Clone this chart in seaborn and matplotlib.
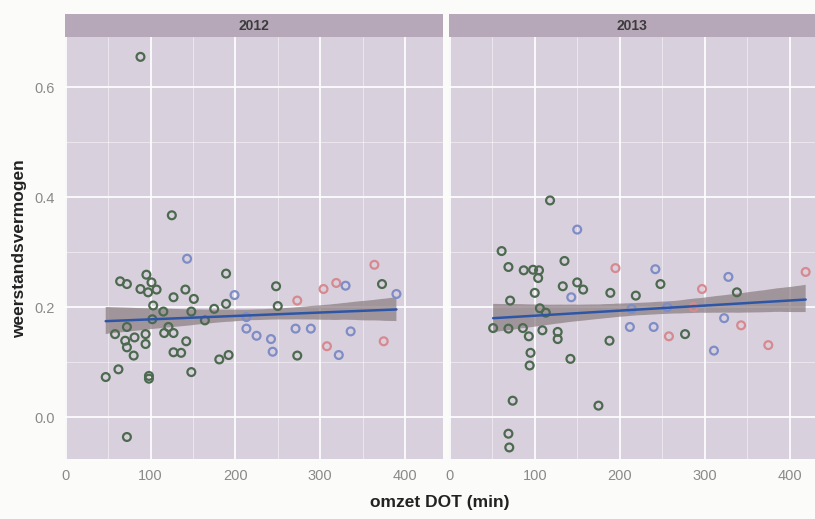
import numpy as np
import pandas as pd
import seaborn as sns
import matplotlib.pyplot as plt
from matplotlib.ticker import MultipleLocator

# 2012 panel
x_2012 = [88, 125, 143, 189, 364, 64, 72, 95, 101, 88, 97, 107, 103, 127, 141, 151,
          248, 199, 304, 319, 330, 373, 390, 273, 250, 189, 175, 148, 115, 102, 164,
          213, 72, 58, 81, 94, 70, 72, 80, 94, 121, 127, 116, 142, 127, 136, 181, 192,
          273, 213, 225, 242, 244, 271, 289, 336, 308, 322, 375, 47, 62, 98, 98, 148, 72]
y_2012 = [0.655, 0.367, 0.288, 0.261, 0.277, 0.247, 0.242, 0.259, 0.245, 0.233, 0.227,
          0.232, 0.203, 0.218, 0.232, 0.215, 0.238, 0.222, 0.233, 0.244, 0.239, 0.242,
          0.224, 0.212, 0.202, 0.206, 0.197, 0.192, 0.192, 0.178, 0.176, 0.182, 0.164,
          0.151, 0.145, 0.151, 0.139, 0.127, 0.112, 0.133, 0.164, 0.153, 0.153, 0.138,
          0.118, 0.117, 0.105, 0.113, 0.112, 0.161, 0.148, 0.142, 0.119, 0.161, 0.161,
          0.156, 0.129, 0.113, 0.138, 0.073, 0.087, 0.070, 0.075, 0.082, -0.036]
g_2012 = list("GGBGRGGGGGGGGGGGGBRRBGBRGGGGGGGBGGGGGGGGGGGGGGGGGBBBBBBBRBRGGGGGG")

# 2013 panel
x_2013 = [118, 150, 61, 69, 87, 98, 105, 104, 135, 195, 242, 248, 328, 419, 297, 338,
          100, 133, 150, 157, 189, 143, 219, 71, 106, 113, 51, 69, 86, 93, 109, 127,
          127, 188, 212, 240, 258, 277, 323, 343, 311, 375, 95, 94, 142, 74, 175, 69,
          70, 214, 256, 287]
y_2013 = [0.394, 0.341, 0.302, 0.273, 0.267, 0.268, 0.267, 0.253, 0.284, 0.271, 0.269,
          0.242, 0.255, 0.264, 0.233, 0.227, 0.226, 0.238, 0.245, 0.232, 0.226, 0.218,
          0.221, 0.212, 0.198, 0.190, 0.162, 0.161, 0.162, 0.147, 0.158, 0.155, 0.142,
          0.139, 0.164, 0.164, 0.147, 0.151, 0.180, 0.167, 0.121, 0.131, 0.117, 0.094,
          0.106, 0.030, 0.021, -0.030, -0.055, 0.197, 0.200, 0.200]
g_2013 = list("GBGGGGGGGRBGBRRGGGGGGBGGGGGGGGGGGGBBRGBRBRGGGGGGGBBR")

years = ["2012", "2013"]
palette = {"G": "#4d6a50", "B": "#7e8dc6", "R": "#d68a90"}

panel_bg = "#d9d0dd"
strip_bg = "#b6a8b9"

df = pd.concat([
    pd.DataFrame({"x": x_2012, "y": y_2012, "g": g_2012, "jaar": "2012"}),
    pd.DataFrame({"x": x_2013, "y": y_2013, "g": g_2013, "jaar": "2013"}),
])

sns.set_style("white")
plt.rcParams["font.family"] = ["Liberation Sans", "DejaVu Sans"]

fig = plt.figure(figsize=(8.15, 5.19), dpi=100)
fig.patch.set_facecolor("#fbfbf9")

# panel positions (figure fractions)
bottom, height = 0.1156, 0.813
boxes = [(0.0798, 0.4638, (-1, 445)), (0.5509, 0.4491, (-1, 430))]

for i, (yr, (left, width, xlim)) in enumerate(zip(years, boxes)):
    ax = fig.add_axes([left, bottom, width, height])
    ax.set_facecolor(panel_bg)
    sub = df[df["jaar"] == yr]

    # regression line + band
    sns.regplot(data=sub, x="x", y="y", scatter=False, ax=ax, color="#2e56a6",
                ci=75, line_kws={"lw": 1.8, "zorder": 4}, truncate=True)
    for coll in ax.collections:
        coll.set_facecolor("#8c7f83")
        coll.set_edgecolor("none")
        coll.set_linewidth(0)
        coll.set_alpha(0.72)
        coll.set_zorder(2)

    sns.scatterplot(data=sub, x="x", y="y", hue="g", palette=palette, ax=ax,
                    s=32, legend=False, zorder=3)
    pts = ax.collections[-1]
    fc = pts.get_facecolors()
    pts.set_edgecolors(fc)
    pts.set_facecolors("none")
    pts.set_linewidth(1.6)

    ax.set_xlim(*xlim)
    ax.set_ylim(-0.076, 0.691)
    ax.xaxis.set_major_locator(MultipleLocator(100))
    ax.xaxis.set_minor_locator(MultipleLocator(50))
    ax.yaxis.set_major_locator(MultipleLocator(0.2))
    ax.yaxis.set_minor_locator(MultipleLocator(0.1))
    ax.grid(which="major", color="white", lw=1.2, zorder=0)
    ax.grid(which="minor", color="white", lw=0.5, alpha=0.7, zorder=0)
    ax.set_axisbelow(True)
    for sp in ax.spines.values():
        sp.set_visible(False)
    ax.set_xlabel("")
    ax.set_ylabel("")
    ax.tick_params(axis="both", which="major", length=4, width=1, color="#888888",
                   labelcolor="#8a8a8a", labelsize=10.5, direction="out")
    ax.tick_params(which="minor", length=0)
    ax.set_xticks([0, 100, 200, 300, 400])
    if i == 0:
        ax.set_yticks([0.0, 0.2, 0.4, 0.6])
        ax.set_yticklabels(["0.0", "0.2", "0.4", "0.6"])
    else:
        ax.tick_params(axis="y", left=False, labelleft=False)

    # facet strip
    sax = fig.add_axes([left, bottom + height, width, 0.0443])
    sax.set_facecolor(strip_bg)
    sax.set_xticks([])
    sax.set_yticks([])
    for sp in sax.spines.values():
        sp.set_visible(False)
    sax.text(0.5, 0.5, yr, ha="center", va="center", fontsize=10,
             fontweight="bold", color="#3c3c3c", transform=sax.transAxes)

fig.text(0.54, 0.032, "omzet DOT (min)", ha="center", va="center", fontsize=12.5,
         fontweight="bold", color="#222222")
fig.text(0.024, 0.52, "weerstandsvermogen", ha="center", va="center", fontsize=12.5,
         fontweight="bold", rotation=90, color="#222222")

fig.savefig("out.png", dpi=100, facecolor=fig.get_facecolor())
